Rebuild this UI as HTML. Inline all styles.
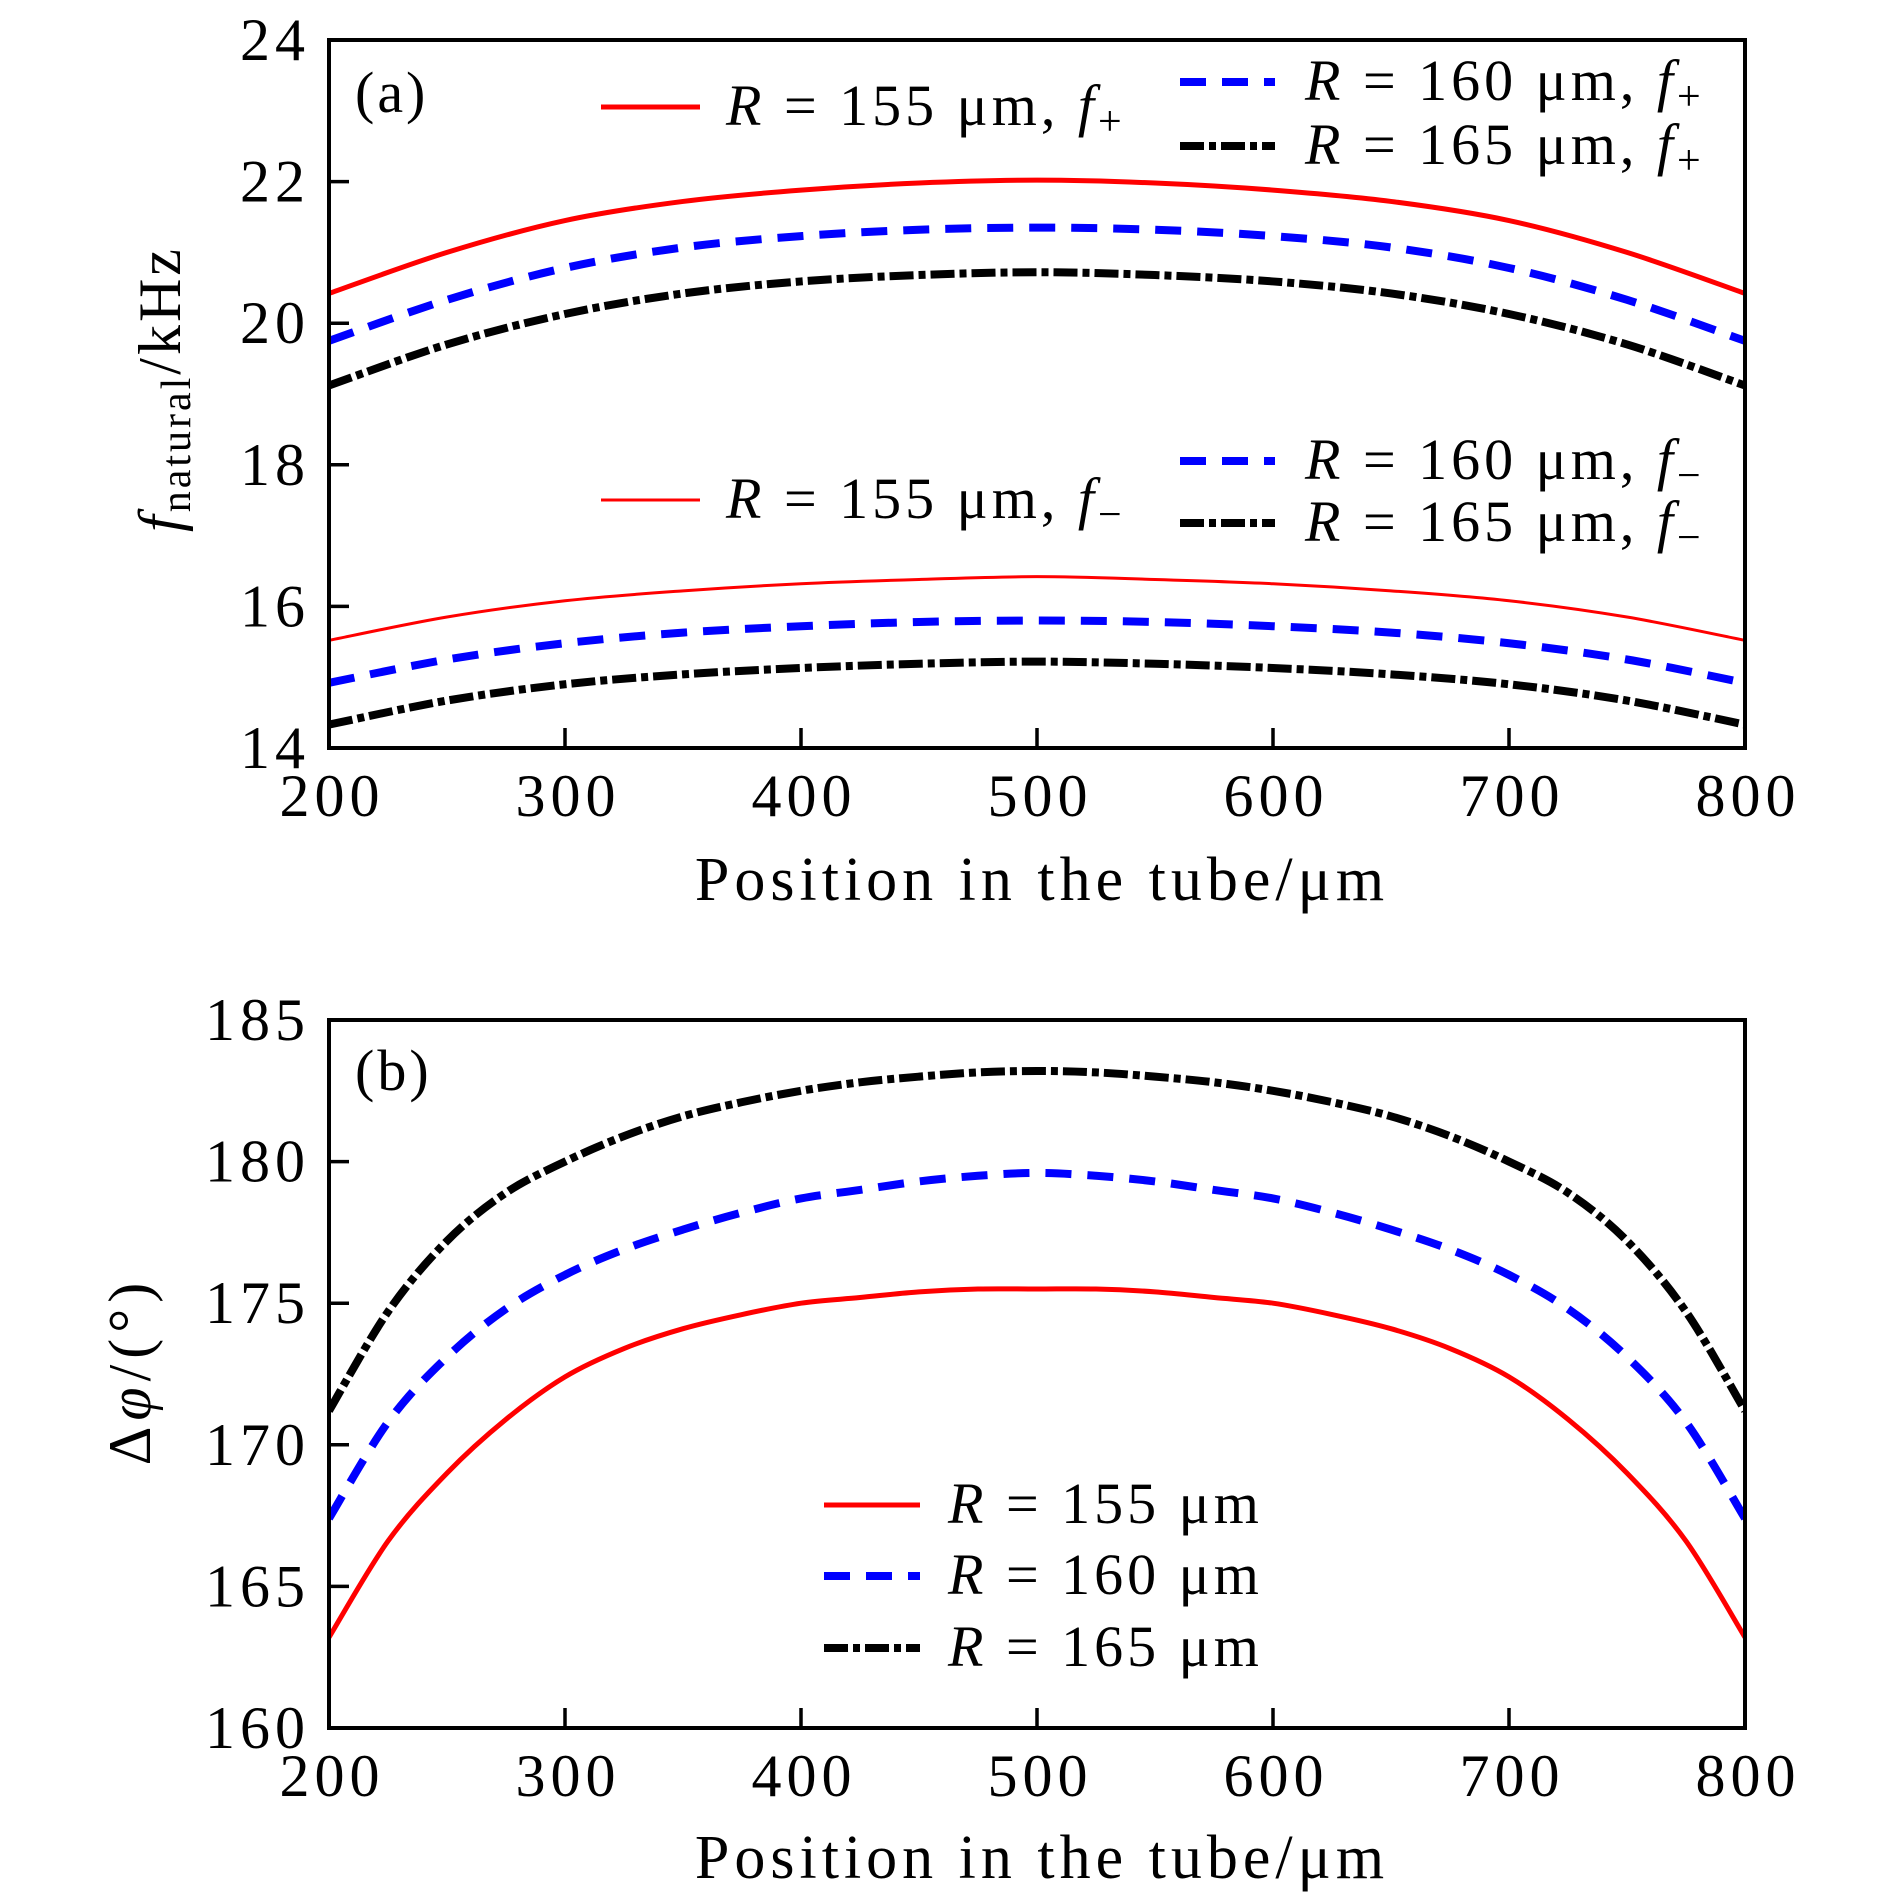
<!DOCTYPE html>
<html><head><meta charset="utf-8">
<style>
html,body{margin:0;padding:0;background:#fff;}
svg{display:block;font-family:"Liberation Serif",serif;}
</style></head>
<body>
<svg id="chart" width="1890" height="1902" viewBox="0 0 1890 1902" xmlns="http://www.w3.org/2000/svg">
<g id="pa"></g>
<g id="pb"></g>
</svg>
<script>
// ---- data ----
const xTicks = [200,300,400,500,600,700,800];
const yTicksA = [14,16,18,20,22,24];
const yTicksB = [160,165,170,175,180,185];
const posA = [200,250,300,350,400,450,500,550,600,650,700,750,800];
const fPlus155 = [20.42,21.0,21.45,21.72,21.88,21.98,22.02,21.98,21.88,21.72,21.45,21.0,20.42];
const fPlus160 = [19.75,20.33,20.78,21.07,21.23,21.32,21.35,21.32,21.23,21.07,20.78,20.33,19.75];
const fPlus165 = [19.12,19.7,20.13,20.42,20.59,20.68,20.72,20.68,20.59,20.42,20.13,19.7,19.12];
const fMinus155 = [15.52,15.85,16.08,16.22,16.32,16.38,16.42,16.38,16.32,16.22,16.08,15.85,15.52];
const fMinus160 = [14.92,15.25,15.48,15.63,15.72,15.78,15.8,15.78,15.72,15.63,15.48,15.25,14.92];
const fMinus165 = [14.33,14.67,14.9,15.04,15.13,15.19,15.22,15.19,15.13,15.04,14.9,14.67,14.33];
const posB = [200,225,250,275,300,325,350,375,400,425,450,475,500,525,550,575,600,625,650,675,700,725,750,775,800];
const phi155 = [163.2,166.6,169.0,170.9,172.4,173.4,174.1,174.6,175.0,175.2,175.4,175.5,175.5,175.5,175.4,175.2,175.0,174.6,174.1,173.4,172.4,170.9,169.0,166.6,163.2];
const phi160 = [167.4,170.8,173.1,174.8,176.0,176.9,177.6,178.2,178.7,179.0,179.3,179.5,179.6,179.5,179.3,179.0,178.7,178.2,177.6,176.9,176.0,174.8,173.1,170.8,167.4];
const phi165 = [171.2,174.7,177.2,178.9,180.0,180.9,181.6,182.1,182.5,182.8,183.0,183.15,183.2,183.15,183.0,182.8,182.5,182.1,181.6,180.9,180.0,178.9,177.2,174.7,171.2];

const NS='http://www.w3.org/2000/svg';
function mk(parent,tag,attrs){const e=document.createElementNS(NS,tag);for(const k in attrs)e.setAttribute(k,attrs[k]);parent.appendChild(e);return e;}
const L=329,R=1745;
const styles={
  red:{stroke:'#f00','stroke-width':5,fill:'none'},
  redThin:{stroke:'#f00','stroke-width':3,fill:'none'},
  blue:{stroke:'#00f','stroke-width':8,fill:'none','stroke-dasharray':'26 16'},
  black:{stroke:'#000','stroke-width':8,fill:'none','stroke-dasharray':'24 5 7 5'}
};
function smoothPath(pts){
  let d='M'+pts[0][0]+','+pts[0][1];
  for(let i=0;i<pts.length-1;i++){
    const p0=pts[Math.max(i-1,0)],p1=pts[i],p2=pts[i+1],p3=pts[Math.min(i+2,pts.length-1)];
    const c1=[p1[0]+(p2[0]-p0[0])/6,p1[1]+(p2[1]-p0[1])/6];
    const c2=[p2[0]-(p3[0]-p1[0])/6,p2[1]-(p3[1]-p1[1])/6];
    d+=' C'+c1[0]+','+c1[1]+' '+c2[0]+','+c2[1]+' '+p2[0]+','+p2[1];
  }
  return d;
}
function panel(g,top,bot,yTicks,series,xs){
  const ymin=yTicks[0],ymax=yTicks[yTicks.length-1];
  const sx=v=>L+(v-200)/600*(R-L);
  const sy=v=>bot-(v-ymin)/(ymax-ymin)*(bot-top);
  const cp=mk(g,'clipPath',{id:g.id+'clip'});
  mk(cp,'rect',{x:L,y:top,width:R-L,height:bot-top});
  series.forEach(s=>{
    const p=mk(g,'path',Object.assign({d:smoothPath(xs.map((x,i)=>[sx(x),sy(s.v[i])])),'clip-path':'url(#'+g.id+'clip)'},styles[s.st]));
    
    
  });
  xTicks.forEach(t=>{
    const l=mk(g,'line',{x1:sx(t),x2:sx(t),y1:bot,y2:bot-20,stroke:'#000','stroke-width':3.5});
    
    
    const tx=mk(g,'text',{x:sx(t)+3,y:bot+68,'font-size':60,'letter-spacing':5,'text-anchor':'middle'});
    tx.textContent=t;
    
    
  });
  yTicks.forEach(t=>{
    const l=mk(g,'line',{x1:L,x2:L+20,y1:sy(t),y2:sy(t),stroke:'#000','stroke-width':3.5});
    
    
    const tx=mk(g,'text',{x:310,y:sy(t)+20,'font-size':60,'letter-spacing':5,'text-anchor':'end'});
    tx.textContent=t;
    
    
  });
  const fr=mk(g,'rect',{x:L,y:top,width:R-L,height:bot-top,fill:'none',stroke:'#000','stroke-width':4});
  
  
}
const pa=document.getElementById('pa'), pb=document.getElementById('pb');
panel(pa,40,748,yTicksA,[
  {v:fPlus155,st:'red',name:'line-r155-fplus'},
  {v:fPlus160,st:'blue',name:'line-r160-fplus'},
  {v:fPlus165,st:'black',name:'line-r165-fplus'},
  {v:fMinus155,st:'redThin',name:'line-r155-fminus'},
  {v:fMinus160,st:'blue',name:'line-r160-fminus'},
  {v:fMinus165,st:'black',name:'line-r165-fminus'}],posA);
panel(pb,1020,1728,yTicksB,[
  {v:phi155,st:'red',name:'line-r155-phase'},
  {v:phi160,st:'blue',name:'line-r160-phase'},
  {v:phi165,st:'black',name:'line-r165-phase'}],posB);

function legend(g,x1,x2,y,st,tx,html,name){
  const l=mk(g,'line',Object.assign({x1:x1,x2:x2,y1:y,y2:y},styles[st]));
  
  
  const t=mk(g,'text',{x:tx,y:y+18,'font-size':58,'letter-spacing':4,'xml:space':'preserve'});
  t.innerHTML=html;
  
  
}
const sub=(s)=>'<tspan font-style="italic">f</tspan><tspan font-size="42" dy="10">'+s+'</tspan>';
const RR='<tspan font-style="italic">R</tspan>';
legend(pa,601,700,107,'red',726,RR+' = 155 μm,  '+sub('+'),'legend-r155-fplus');
legend(pa,1180,1275,82,'blue',1305,RR+' = 160 μm,  '+sub('+'),'legend-r160-fplus');
legend(pa,1180,1275,146,'black',1305,RR+' = 165 μm,  '+sub('+'),'legend-r165-fplus');
legend(pa,601,700,500,'redThin',726,RR+' = 155 μm,  '+sub('−'),'legend-r155-fminus');
legend(pa,1180,1275,461,'blue',1305,RR+' = 160 μm,  '+sub('−'),'legend-r160-fminus');
legend(pa,1180,1275,523,'black',1305,RR+' = 165 μm,  '+sub('−'),'legend-r165-fminus');
legend(pb,824,920,1505,'red',948,RR+' = 155 μm','legend-r155');
legend(pb,824,920,1576,'blue',948,RR+' = 160 μm','legend-r160');
legend(pb,824,920,1648,'black',948,RR+' = 165 μm','legend-r165');

function txt(g,attrs,html,name){const t=mk(g,'text',attrs);t.innerHTML=html;}
txt(pa,{x:355,y:112,'font-size':58,'letter-spacing':3},'(a)','panel-label-a');
txt(pb,{x:355,y:1090,'font-size':58,'letter-spacing':3},'(b)','panel-label-b');
txt(pa,{x:1042,y:900,'font-size':62,'letter-spacing':5,'text-anchor':'middle'},'Position in the tube/μm','x-axis-title-a');
txt(pb,{x:1042,y:1878,'font-size':62,'letter-spacing':5,'text-anchor':'middle'},'Position in the tube/μm','x-axis-title-b');
txt(pa,{x:0,y:0,'font-size':60,'letter-spacing':3,'text-anchor':'middle',transform:'translate(180,389) rotate(-90)'},'<tspan font-style="italic">f</tspan><tspan font-size="42" dy="10">natural</tspan><tspan dy="-10">/kHz</tspan>','y-axis-title-a');
txt(pb,{x:0,y:0,'font-size':60,'letter-spacing':6,'text-anchor':'middle',transform:'translate(150,1371) rotate(-90)'},'Δ<tspan font-style="italic">φ</tspan>/(°)','y-axis-title-b');
</script>
</body></html>
